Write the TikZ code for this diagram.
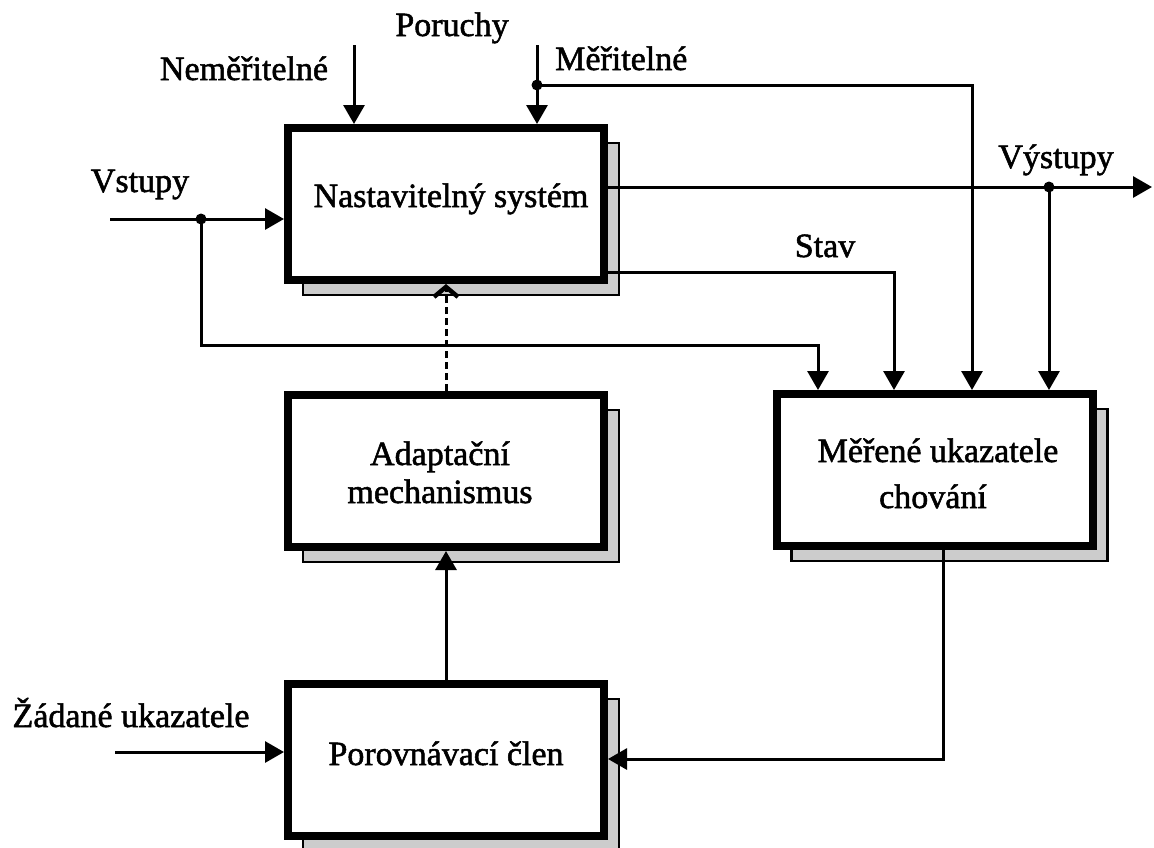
\documentclass[tikz,border=0pt]{standalone}
\usepackage{fontspec}
\setmainfont{Liberation Serif}[RawFeature={embolden=1.6}]
\usetikzlibrary{arrows.meta,calc,backgrounds}
\tikzset{
  x=1pt, y=-1pt,
  blk/.style={draw=black, fill=white, line width=8pt, minimum width=316pt, minimum height=152pt, inner sep=0pt},
  shd/.style={draw=black, fill=gray!40, line width=2.5pt},
  lbl/.style={font=\fontsize{34}{40}\selectfont, inner sep=0pt, anchor=base},
  conn/.style={line width=3pt},
  arr/.style={line width=3pt, -{Triangle[length=19pt,width=21pt]}},
  dasharr/.style={line width=3pt, dash pattern=on 7pt off 4pt, -{Straight Barb[length=10pt,width=24pt,line width=4.5pt]}},
  jdot/.style={circle, fill=black, inner sep=0pt, minimum size=11pt}
}
\begin{document}
\begin{tikzpicture}
\useasboundingbox (0,0) rectangle (1154,847);
% boxes
\node[blk] (ns) at (446,204) {};
\node[blk] (am) at (446,471) {};
\node[blk] (mu) at (934.5,470) {};
\node[blk] (pc) at (446,760) {};
\begin{scope}[on background layer]
  \foreach \b in {ns,am,mu,pc}
    \draw[shd] ([shift={(19,11)}]\b.south west) rectangle ([shift={(11,19)}]\b.north east);
\end{scope}
% box texts
\node[lbl] (nst) at (451,207) {Nastavitelný systém};
\node[lbl] (amt1) at (440,465) {Adaptační};
\node[lbl] (amt2) at (440,503) {mechanismus};
\node[lbl] (mut1) at (938,462) {Měřené ukazatele};
\node[lbl] (mut2) at (933,508) {chování};
\node[lbl] (pct) at (446,765) {Porovnávací člen};
% free labels
\node[lbl] (lpor) at (452,36) {Poruchy};
\node[lbl] (lnem) at (244,80) {Neměřitelné};
\node[lbl, anchor=base west] (lmer) at (555,70) {Měřitelné};
\node[lbl] (lvst) at (140,192) {Vstupy};
\node[lbl] (lstav) at (825,257) {Stav};
\node[lbl] (lvys) at (1056,168) {Výstupy};
\node[lbl] (lzad) at (131,727) {Žádané ukazatele};
% coordinates
\coordinate (vin) at (110,219);
\coordinate (jv) at (201,219);
\coordinate (c1) at (818,345);
\coordinate (nm0) at (354,45);
\coordinate (m0) at (537,45);
\coordinate (jm) at (537,85);
\coordinate (mx) at (972,85);
\coordinate (jy) at (1049,187);
\coordinate (yo) at (1152,187);
\coordinate (st) at (894,272);
\coordinate (zi) at (115,752);
\coordinate (fb) at (943,759);
% connectors
\draw[conn] (vin) -- (jv);
\draw[arr] (jv) -- (jv -| ns.west);
\draw[arr] (jv) |- (c1) -- (c1 |- mu.north);
\draw[arr] (nm0) -- (nm0 |- ns.north);
\draw[arr] (m0) -- (m0 |- ns.north);
\draw[arr] (jm) -- (mx) -- (mx |- mu.north);
\draw[arr] (jy -| ns.east) -- (yo);
\draw[arr] (jy) -- (jy |- mu.north);
\draw[arr] (st -| ns.east) -- (st) -- (st |- mu.north);
\draw[dasharr] (am.north) -- (ns.south);
\draw[arr] (pc.north) -- (am.south);
\draw[arr] (zi) -- (zi -| pc.west);
\draw[arr] (fb |- mu.south) -- (fb) -- (fb -| pc.east);
% junction dots
\node[jdot] (dv) at (jv) {};
\node[jdot] (dm) at (jm) {};
\node[jdot] (dy) at (jy) {};
\end{tikzpicture}
\end{document}
